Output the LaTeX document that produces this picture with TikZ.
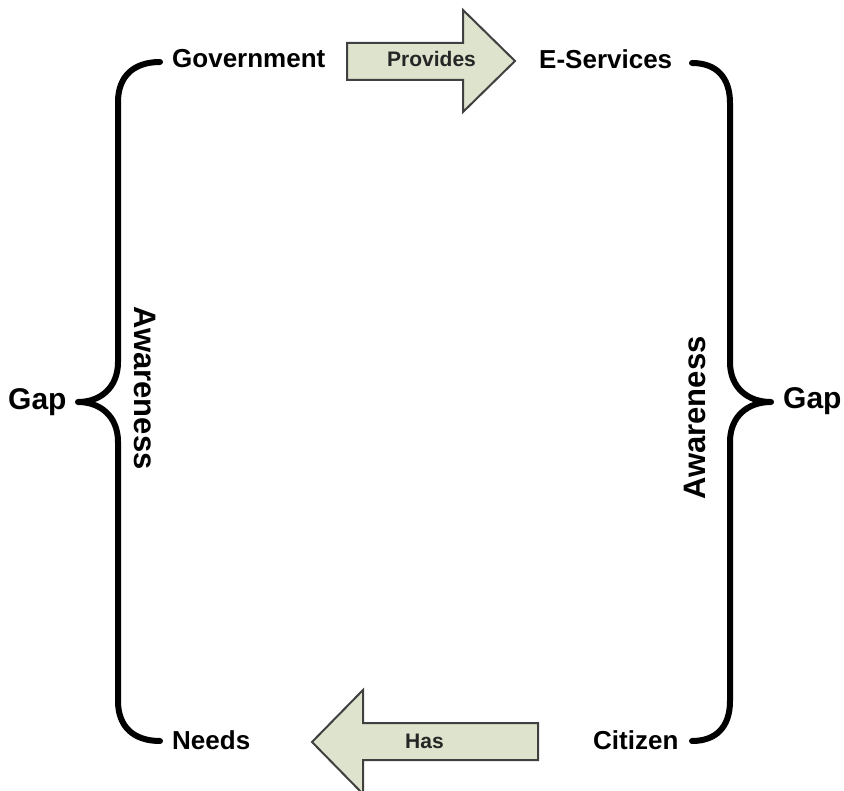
\documentclass[tikz,border=0pt]{standalone}
\usepackage{fontspec}
\setmainfont{Liberation Sans}
\begin{document}
\begin{tikzpicture}[x=1pt,y=-1pt,
  lbl/.style={font=\bfseries\fontsize{26}{30}\selectfont,inner sep=0pt},
  big/.style={font=\bfseries\fontsize{31}{36}\selectfont,inner sep=0pt},
  small/.style={font=\bfseries\fontsize{21}{25}\selectfont,inner sep=0pt,text=black!85},
  brace/.style={line width=6pt,line cap=round,line join=round},
  blockarrow/.style={draw=black!75,line width=2pt,line join=miter,fill={rgb,255:red,221;green,227;blue,205}}]
\useasboundingbox (0,0) rectangle (844,791);
% corner labels
\node[lbl,anchor=base west] (gov) at (172,68) {Government};
\node[lbl,anchor=base west] (eserv) at (539,69) {E-Services};
\node[lbl,anchor=base west] (needs) at (172,749) {Needs};
\node[lbl,anchor=base west] (citizen) at (593,749) {Citizen};
% block arrows
\draw[blockarrow] (347,43) -- (463,43) -- (463,10) -- (515,61) -- (463,112) -- (463,80) -- (347,80) -- cycle;
\node[small,anchor=base west] (provides) at (387,67) {Provides};
\draw[blockarrow] (538,723) -- (363,723) -- (363,690) -- (312,742) -- (363,794) -- (363,760) -- (538,760) -- cycle;
\node[small,anchor=base west] (has) at (405,748) {Has};
% braces
\draw[brace] (160,62) .. controls (134,62) and (118,76) .. (118,102) -- (118,362)
  .. controls (118,388) and (100,402) .. (78,402) .. controls (100,402) and (118,416) .. (118,442)
  -- (118,701) .. controls (118,727) and (134,741) .. (160,741);
\draw[brace] (692,63) .. controls (716,63) and (730,77) .. (730,103) -- (730,362)
  .. controls (730,388) and (748,402) .. (771,402) .. controls (748,402) and (730,416) .. (730,442)
  -- (730,701) .. controls (730,727) and (716,741) .. (692,741);
% gap labels
\node[big,anchor=base west,font=\bfseries\fontsize{30}{36}\selectfont] (gapl) at (8,410) {Gap};
\node[big,anchor=base west,font=\bfseries\fontsize{30}{36}\selectfont] (gapr) at (783,409) {Gap};
\node[big,rotate=-90] (awl) at (145,388) {Awareness};
\node[big,rotate=90] (awr) at (695,418) {Awareness};
\end{tikzpicture}
\end{document}
